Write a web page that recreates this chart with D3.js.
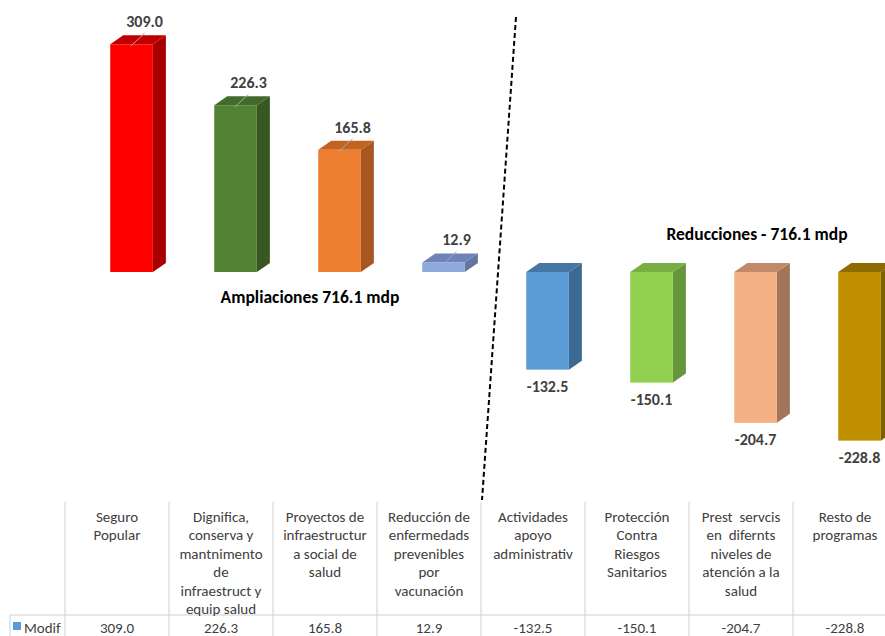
<!DOCTYPE html>
<html>
<head>
<meta charset="utf-8">
<script src="https://cdn.jsdelivr.net/npm/d3@7"></script>
<style>
  body { margin: 0; background: #fff; }
  svg { display: block; font-family: Carlito, Lato, "Open Sans", sans-serif; }
</style>
</head>
<body>
<div id="chart"></div>
<script>
// data
var categories = ["Seguro Popular", "Dignifica", "Proyectos", "Reduccion", "Actividades", "Proteccion", "Prest servcis", "Resto"]
var headerLines = [
  ["Seguro", "Popular"],
  ["Dignifica,", "conserva y", "mantnimento", "de", "infraestruct y", "equip salud"],
  ["Proyectos de", "infraestructur", "a social de", "salud"],
  ["Reducción de", "enfermedads", "prevenibles", "por", "vacunación"],
  ["Actividades", "apoyo", "administrativ"],
  ["Protección", "Contra", "Riesgos", "Sanitarios"],
  ["Prest  servcis", "en  difernts", "niveles de", "atención a la", "salud"],
  ["Resto de", "programas"]
]
var values = [309.0, 226.3, 165.8, 12.9, -132.5, -150.1, -204.7, -228.8]
var seriesName = "Modif"
var frontColors = ["#FF0000", "#548235", "#ED7D31", "#8EA9DB", "#5B9BD5", "#92D050", "#F4B183", "#BF8F00"]
var sideColors = ["#A80000", "#385723", "#A85722", "#6375A0", "#3C6A93", "#66963A", "#A0755A", "#7F6000"]
var topColors = ["#C00000", "#426B2B", "#C4621F", "#6E84B8", "#4677A4", "#78AF42", "#C08A68", "#8F6C00"]

var width = 885, height = 636

// hyphen minus instead of unicode minus
var fmt = function(v) { return d3.format(".1f")(v).replace("\u2212", "-") }

var svg = d3.select("#chart")
  .append("svg")
  .attr("width", width)
  .attr("height", height)

// scales
var xScale = d3.scaleBand()
  .domain(categories)
  .range([65, 65 + 104 * categories.length])
  .padding(0)

var yScale = d3.scaleLinear()
  .domain([-250, 350])
  .range([272 + 250 * 0.737, 272 - 350 * 0.737])

var bw = xScale.bandwidth()
var barOff = bw * 0.435, barW = bw * 0.41
var dx = 13, dy = 9

var data = categories.map(function(c, i) {
  return { cat: c, value: values[i], i: i }
})

var bars = svg.append("g").attr("class", "bars")

data.forEach(function(d) {
  var x0 = xScale(d.cat) + barOff
  var x1 = x0 + barW
  var yTop = yScale(Math.max(0, d.value))
  var yBot = yScale(Math.min(0, d.value))
  var g = bars.append("g")
  // side face
  g.append("path")
    .attr("d", `M${x1},${yTop} L${x1 + dx},${yTop - dy} L${x1 + dx},${yBot - dy} L${x1},${yBot} Z`)
    .attr("fill", sideColors[d.i])
  // top face
  g.append("path")
    .attr("d", `M${x0},${yTop} L${x0 + dx},${yTop - dy} L${x1 + dx},${yTop - dy} L${x1},${yTop} Z`)
    .attr("fill", topColors[d.i])
  // front face
  g.append("rect")
    .attr("x", x0)
    .attr("y", yTop)
    .attr("width", barW)
    .attr("height", Math.max(1, yBot - yTop))
    .attr("fill", frontColors[d.i])
})

// value labels
data.forEach(function(d) {
  var cx = xScale(d.cat) + barOff + barW / 2
  if (d.value >= 0) {
    var top = yScale(d.value)
    svg.append("line")
      .attr("x1", cx + 13).attr("y1", top - 11)
      .attr("x2", cx - 1).attr("y2", top + 2)
      .attr("stroke", "#a6a6a6")
      .attr("stroke-width", 1)
    svg.append("text")
      .text(fmt(d.value))
      .attr("x", cx + 13)
      .attr("y", top - 17)
      .attr("text-anchor", "middle")
      .attr("font-size", "16px")
      .attr("font-weight", "bold")
      .attr("fill", "#404040")
  } else {
    svg.append("text")
      .text(fmt(d.value))
      .attr("x", cx)
      .attr("y", yScale(d.value) + 22)
      .attr("text-anchor", "middle")
      .attr("font-size", "16px")
      .attr("font-weight", "bold")
      .attr("fill", "#404040")
  }
})

// annotations
svg.append("text")
  .text("Ampliaciones 716.1 mdp")
  .attr("x", 310)
  .attr("y", 303)
  .attr("text-anchor", "middle")
  .attr("font-size", "17.5px")
  .attr("font-weight", "bold")
  .attr("fill", "#000")

svg.append("text")
  .text("Reducciones - 716.1 mdp")
  .attr("x", 757)
  .attr("y", 240)
  .attr("text-anchor", "middle")
  .attr("font-size", "17.5px")
  .attr("font-weight", "bold")
  .attr("fill", "#000")

// dashed divider
var divX = xScale(categories[4])
svg.append("line")
  .attr("x1", divX + 35).attr("y1", 17)
  .attr("x2", divX + 1).attr("y2", 500)
  .attr("stroke", "#000")
  .attr("stroke-width", 2)
  .attr("stroke-dasharray", "5,3")

// data table
var table = svg.append("g").attr("class", "table")
var gridColor = "#d0d0d0"
var rowY = 615

categories.forEach(function(c) {
  table.append("line")
    .attr("x1", xScale(c)).attr("x2", xScale(c))
    .attr("y1", 502).attr("y2", height)
    .attr("stroke", gridColor)
})
table.append("line")
  .attr("x1", 10).attr("x2", 10)
  .attr("y1", rowY).attr("y2", height)
  .attr("stroke", gridColor)
table.append("line")
  .attr("x1", 10).attr("x2", width)
  .attr("y1", rowY).attr("y2", rowY)
  .attr("stroke", gridColor)

categories.forEach(function(c, i) {
  var cx = xScale(c) + bw / 2
  headerLines[i].forEach(function(line, j) {
    table.append("text")
      .text(line)
      .attr("x", cx)
      .attr("y", 522 + j * 18.4)
      .attr("text-anchor", "middle")
      .attr("font-size", "15px")
      .attr("fill", "#404040")
      .style("white-space", "pre")
  })
  table.append("text")
    .text(fmt(values[i]))
    .attr("x", cx)
    .attr("y", 633)
    .attr("text-anchor", "middle")
    .attr("font-size", "15px")
    .attr("fill", "#404040")
})

// legend key
table.append("rect")
  .attr("x", 13).attr("y", 622)
  .attr("width", 8).attr("height", 8)
  .attr("fill", "#5B9BD5")
table.append("text")
  .text(seriesName)
  .attr("x", 24)
  .attr("y", 633)
  .attr("font-size", "15px")
  .attr("fill", "#404040")
</script>
</body>
</html>
